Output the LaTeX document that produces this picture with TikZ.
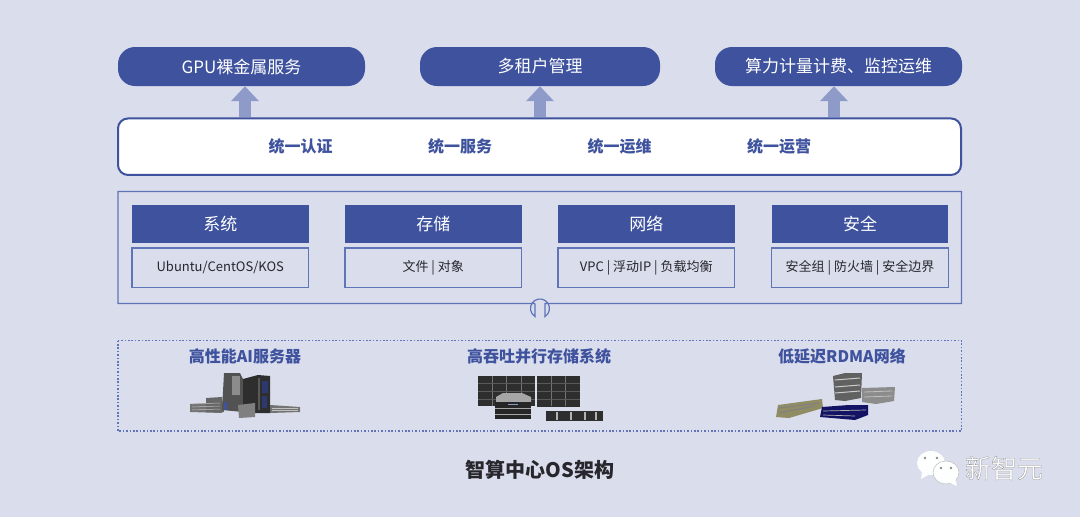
\documentclass[tikz,border=0pt]{standalone}
\usepackage{fontspec}
\setmainfont{Noto Sans CJK SC}
\usetikzlibrary{arrows.meta}
\definecolor{bgc}{HTML}{DADDEC}
\definecolor{navy}{HTML}{3E529E}
\definecolor{edgeb}{HTML}{6075B8}
\definecolor{arrowc}{HTML}{8E9AC8}
\definecolor{inkd}{HTML}{26262C}
\tikzset{
  pill/.style={fill=navy,rounded corners=17pt,minimum height=39pt,inner sep=0pt,text=white,font=\fontsize{17}{20}\selectfont},
  headbox/.style={fill=navy,minimum width=176.5pt,minimum height=37.5pt,inner sep=0pt,text=white,font=\fontsize{17}{20}\selectfont},
  subbox/.style={draw=edgeb,line width=1.2pt,minimum width=176.5pt,minimum height=39.5pt,inner sep=0pt,text=inkd,font=\fontsize{13}{16}\selectfont},
  barlabel/.style={text=navy,font=\fontsize{16}{20}\selectfont\bfseries,inner sep=0pt},
  hwlabel/.style={text=navy,font=\fontsize{16}{20}\selectfont\bfseries,inner sep=0pt},
  uparrow/.style={draw=arrowc,line width=12pt,-{Triangle[length=15pt,width=27pt]},shorten >=0pt},
  dark/.style={fill=black!78},
}
\begin{document}
\begin{tikzpicture}[x=1pt,y=-1pt]
\useasboundingbox (0,0) rectangle (1080,517);
\fill[bgc] (0,0) rectangle (1080,517);
% top pills
\node[pill,minimum width=247pt] (p1) at (241.5,66.5) {GPU裸金属服务};
\node[pill,minimum width=240pt] (p2) at (540,66.5) {多租户管理};
\node[pill,minimum width=247pt] (p3) at (838.5,66.5) {算力计量计费、监控运维};
% unified bar
\node[draw=navy,fill=white,line width=2pt,rounded corners=10pt,minimum width=843pt,minimum height=56.5pt,inner sep=0pt] (bar) at (539.5,146.7) {};
\node[barlabel] (u1) at (300.5,146) {统一认证};
\node[barlabel] (u2) at (460,146) {统一服务};
\node[barlabel] (u3) at (619.5,146) {统一运维};
\node[barlabel] (u4) at (779,146) {统一运营};
% arrows
\coordinate (a1) at (245,0);
\coordinate (a2) at (540,0);
\coordinate (a3) at (834,0);
\draw[uparrow] (a1 |- bar.north) -- (a1 |- p1.south);
\draw[uparrow] (a2 |- bar.north) -- (a2 |- p2.south);
\draw[uparrow] (a3 |- bar.north) -- (a3 |- p3.south);
% platform box with socket
\draw[edgeb,line width=1.2pt] (535,303.5) -- (118,303.5) -- (118,191.5) -- (961.5,191.5) -- (961.5,303.5) -- (545,303.5) -- (545,316.5)
  arc[start angle=-58,end angle=238,x radius=9.5,y radius=-9.5] -- (535,303.5);
% columns
\node[headbox] (h1) at (220.25,223.75) {系统};
\node[subbox] (s1) at (220.25,267.75) {Ubuntu/CentOS/KOS};
\node[headbox] (h2) at (433.25,223.75) {存储};
\node[subbox] (s2) at (433.25,267.75) {文件 | 对象};
\node[headbox] (h3) at (646.25,223.75) {网络};
\node[subbox] (s3) at (646.25,267.75) {VPC | 浮动IP | 负载均衡};
\node[headbox] (h4) at (860,223.75) {安全};
\node[subbox] (s4) at (860,267.75) {安全组 | 防火墙 | 安全边界};
% hardware box
\draw[edgeb,line width=1.2pt,dash pattern=on 1.6pt off 1.8pt] (118,340.5) rectangle (961.5,431);
\node[hwlabel] (l1) at (245,356) {高性能AI服务器};
\node[hwlabel] (l2) at (539,356) {高吞吐并行存储系统};
\node[hwlabel] (l3) at (842,356) {低延迟RDMA网络};
% servers, AI
\fill[black!55] (190,404) -- (222,402) -- (222,413) -- (190,412) -- cycle;
\fill[black!55] (270,405) -- (300,407) -- (300,412) -- (270,413) -- cycle;
\fill[black!60] (206,398) -- (222,397) -- (224,412) -- (206,412) -- cycle;
\fill[black!68] (224,373) -- (240,373) -- (243,379) -- (243,412) -- (222,410) -- cycle;
\fill[black!82] (243,379) -- (258,375) -- (270,376) -- (270,413) -- (243,413) -- cycle;
\fill[black!45] (232,376) rectangle (240,395);
\fill[black!65] (258,378) rectangle (260,410);
\fill[navy!70!black] (262,381) rectangle (268,393);
\fill[navy!70!black] (262,396) rectangle (267,408);
\fill[navy] (224,402) rectangle (227,410);
\fill[black!50] (238,405) -- (255,403) -- (255,417) -- (239,418) -- cycle;
\foreach \yy in {403,406,409} \draw[black!25,line width=.5pt] (192,\yy+1) -- (220,\yy);
\foreach \yy in {408,410} \draw[black!25,line width=.5pt] (272,\yy) -- (298,\yy);
% servers, storage
\fill[black!82] (478,376) rectangle (535,406);
\fill[black!82] (537,376) rectangle (580,407);
\foreach \xx in {492,506,521,551,565} \draw[black!55,line width=.8pt] (\xx,376) -- (\xx,406);
\foreach \yy in {383,391,399} {\draw[black!65,line width=.5pt] (478,\yy) -- (535,\yy);\draw[black!65,line width=.5pt] (537,\yy) -- (580,\yy);}
\fill[black!35] (496,397) -- (503,393) -- (522,393) -- (531,397) -- (531,402) -- (496,402) -- cycle;
\fill[black!85] (495,402) rectangle (531,419);
\draw[black!35,line width=.8pt] (495,408) -- (531,408) (495,414) -- (531,414);
\fill[navy!60] (508,404) rectangle (518,405);
\fill[black!82] (546,411) rectangle (603,421);
\foreach \xx in {556,570,584,595} \fill[black!30] (\xx,412) rectangle (\xx+2,420);
% servers, network
\fill[black!62] (833,376) -- (845,373) -- (862,373) -- (861,398) -- (845,401) -- (835,400) -- cycle;
\foreach \yy in {380,387,393} \draw[black!20,line width=1pt] (835,\yy) -- (860,\yy-2);
\fill[black!45] (862,388) -- (895,387) -- (894,401) -- (876,404) -- (862,402) -- cycle;
\foreach \yy in {392,397} \draw[black!25,line width=.8pt] (864,\yy) -- (892,\yy-1);
\fill[black!50!yellow!60!gray] (778,405) -- (822,399) -- (823,408) -- (789,418) -- (776,417) -- cycle;
\draw[black!50,line width=1pt] (779,408) -- (820,403) (779,413) -- (815,406);
\fill[black!62!blue!85!gray] (822,407) -- (849,405) -- (868,405) -- (868,415) -- (855,420) -- (820,417) -- cycle;
\draw[black!30,line width=.7pt] (823,411) -- (866,410) (823,415) -- (855,416);
% caption
\node[inner sep=0pt,font=\fontsize{20}{24}\selectfont\bfseries,text=inkd] (cap) at (540,470) {智算中心OS架构};
% watermark
\fill[white!96!bgc] (931,463) ellipse[x radius=14,y radius=12];
\fill[white!96!bgc] (922,472) -- (921,479) -- (930,474) -- cycle;
\fill[white!96!bgc,draw=black!25,line width=.5pt] (946,472.5) ellipse[x radius=13,y radius=11.5];
\fill[white!96!bgc] (948,482) -- (957,486) -- (955,478) -- cycle;
\foreach \ex/\ey in {925/458,937/458,941/468,951/468} \fill[black!45] (\ex,\ey) circle[radius=1.4];
\node[inner sep=0pt,text=white,font=\fontsize{26}{30}\selectfont] (wm) at (1004,468) {\special{pdf:code 2 Tr 0.25 w 0.55 G}新智元\special{pdf:code 0 Tr 0 w}};
\end{tikzpicture}
\end{document}
